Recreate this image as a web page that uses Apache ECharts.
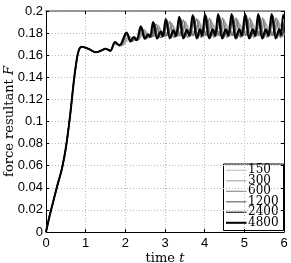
<!DOCTYPE html>
<html>
<head>
<meta charset="utf-8">
<script src="https://cdn.jsdelivr.net/npm/echarts@6/dist/echarts.min.js"></script>
<style>html,body{margin:0;padding:0;background:#fff}#c{width:291px;height:263px}</style>
</head>
<body>
<div id="c"></div>
<script>
// Shared initial ramp (all resolutions coincide here)
const tRamp = [0, 0.1, 0.2, 0.3, 0.4, 0.5, 0.6, 0.7, 0.75, 0.8, 0.85, 0.9, 1.0, 1.1, 1.25, 1.38, 1.5, 1.62];
const fRamp = [0, 0.016, 0.030, 0.044, 0.057, 0.076, 0.103, 0.136, 0.150, 0.161, 0.1663, 0.1676, 0.1668, 0.1652, 0.1626, 0.1640, 0.1658, 0.1640];

const seriesNames = ['150', '300', '600', '1200', '2400', '4800'];
const xTicks = [0, 1, 2, 3, 4, 5, 6];

const t150 = [1.74, 1.94, 2.13, 2.27, 2.52, 2.66, 2.87, 3.02, 3.21, 3.36, 3.55, 3.70, 3.89, 4.02, 4.22, 4.36, 4.55, 4.70, 4.88, 5.03, 5.21, 5.36, 5.54, 5.70, 5.88, 6.00];
const f150 = [0.1695, 0.1690, 0.1755, 0.1738, 0.1805, 0.1765, 0.1835, 0.1772, 0.1855, 0.1775, 0.1868, 0.1778, 0.1875, 0.1778, 0.1878, 0.1778, 0.1880, 0.1778, 0.1880, 0.1778, 0.1880, 0.1778, 0.1880, 0.1778, 0.1880, 0.1790];

const t300 = [1.74, 1.92, 2.11, 2.25, 2.50, 2.64, 2.85, 2.99, 3.19, 3.33, 3.53, 3.67, 3.87, 4.00, 4.18, 4.33, 4.51, 4.66, 4.85, 5.00, 5.19, 5.33, 5.52, 5.67, 5.86, 6.00];
const f300 = [0.1700, 0.1690, 0.1765, 0.1735, 0.1820, 0.1762, 0.1850, 0.1770, 0.1872, 0.1772, 0.1885, 0.1775, 0.1890, 0.1775, 0.1895, 0.1775, 0.1897, 0.1775, 0.1897, 0.1775, 0.1897, 0.1775, 0.1897, 0.1775, 0.1897, 0.1780];

const t600 = [1.74, 1.90, 2.09, 2.20, 2.28, 2.34, 2.47, 2.58, 2.66, 2.72, 2.83, 2.94, 3.02, 3.08, 3.17, 3.28, 3.36, 3.42, 3.51, 3.62, 3.70, 3.76, 3.85, 3.96, 4.04, 4.09, 4.16, 4.27, 4.35, 4.41, 4.49, 4.60, 4.68, 4.74, 4.83, 4.94, 5.02, 5.08, 5.17, 5.28, 5.36, 5.42, 5.50, 5.61, 5.69, 5.75, 5.84, 5.95, 6.00];
const f600 = [0.1705, 0.1688, 0.1775, 0.1728, 0.1755, 0.1740, 0.1832, 0.1756, 0.1785, 0.1770, 0.1868, 0.1763, 0.1805, 0.1778, 0.1890, 0.1765, 0.1810, 0.1780, 0.1905, 0.1765, 0.1815, 0.1782, 0.1915, 0.1765, 0.1815, 0.1782, 0.1920, 0.1765, 0.1815, 0.1782, 0.1922, 0.1765, 0.1815, 0.1782, 0.1922, 0.1765, 0.1815, 0.1782, 0.1922, 0.1765, 0.1815, 0.1782, 0.1922, 0.1765, 0.1815, 0.1782, 0.1922, 0.1765, 0.1790];

const t1200 = [1.74, 1.87, 2.05, 2.16, 2.24, 2.31, 2.42, 2.53, 2.61, 2.67, 2.78, 2.89, 2.97, 3.03, 3.12, 3.23, 3.31, 3.37, 3.46, 3.57, 3.65, 3.71, 3.80, 3.91, 3.99, 4.04, 4.12, 4.23, 4.31, 4.37, 4.45, 4.56, 4.64, 4.70, 4.79, 4.90, 4.98, 5.04, 5.13, 5.24, 5.32, 5.38, 5.46, 5.57, 5.65, 5.71, 5.80, 5.91, 6.00];
const f1200 = [0.1712, 0.1686, 0.1790, 0.1726, 0.1762, 0.1737, 0.1845, 0.1752, 0.1786, 0.1767, 0.1880, 0.1758, 0.1810, 0.1773, 0.1905, 0.1760, 0.1815, 0.1776, 0.1920, 0.1760, 0.1818, 0.1778, 0.1930, 0.1760, 0.1820, 0.1778, 0.1935, 0.1760, 0.1820, 0.1778, 0.1938, 0.1760, 0.1820, 0.1778, 0.1938, 0.1760, 0.1820, 0.1778, 0.1938, 0.1760, 0.1820, 0.1778, 0.1938, 0.1760, 0.1820, 0.1778, 0.1938, 0.1760, 0.1815];

const t2400 = [1.74, 1.86, 2.05, 2.15, 2.24, 2.30, 2.41, 2.52, 2.60, 2.65, 2.73, 2.83, 2.92, 2.97, 3.05, 3.15, 3.24, 3.30, 3.39, 3.49, 3.58, 3.64, 3.73, 3.83, 3.91, 3.96, 4.04, 4.14, 4.23, 4.29, 4.37, 4.47, 4.56, 4.62, 4.71, 4.81, 4.90, 4.96, 5.05, 5.15, 5.24, 5.30, 5.38, 5.48, 5.57, 5.63, 5.72, 5.82, 5.91, 5.96, 6.00];
const f2400 = [0.1715, 0.1685, 0.1795, 0.1722, 0.1762, 0.1735, 0.1852, 0.1748, 0.1788, 0.1765, 0.1890, 0.1755, 0.1812, 0.1772, 0.1915, 0.1755, 0.1820, 0.1775, 0.1935, 0.1755, 0.1825, 0.1778, 0.1950, 0.1755, 0.1830, 0.1778, 0.1955, 0.1755, 0.1830, 0.1778, 0.1958, 0.1755, 0.1830, 0.1778, 0.1958, 0.1755, 0.1830, 0.1778, 0.1958, 0.1755, 0.1830, 0.1778, 0.1958, 0.1755, 0.1830, 0.1778, 0.1958, 0.1755, 0.1830, 0.1782, 0.1900];

const t4800 = [1.74, 1.85, 2.03, 2.13, 2.21, 2.28, 2.39, 2.49, 2.57, 2.62, 2.70, 2.80, 2.89, 2.94, 3.02, 3.12, 3.21, 3.27, 3.36, 3.46, 3.55, 3.61, 3.70, 3.80, 3.88, 3.93, 4.01, 4.11, 4.20, 4.26, 4.34, 4.44, 4.53, 4.59, 4.68, 4.78, 4.87, 4.93, 5.02, 5.12, 5.21, 5.27, 5.35, 5.45, 5.54, 5.60, 5.69, 5.79, 5.88, 5.92, 5.98, 6.00];
const f4800 = [0.1720, 0.1690, 0.1805, 0.1725, 0.1765, 0.1735, 0.1862, 0.1748, 0.1790, 0.1765, 0.1900, 0.1752, 0.1815, 0.1770, 0.1928, 0.1752, 0.1825, 0.1772, 0.1948, 0.1752, 0.1830, 0.1775, 0.1964, 0.1752, 0.1835, 0.1775, 0.1970, 0.1752, 0.1835, 0.1775, 0.1972, 0.1752, 0.1835, 0.1775, 0.1972, 0.1752, 0.1835, 0.1775, 0.1972, 0.1752, 0.1835, 0.1775, 0.1972, 0.1752, 0.1835, 0.1775, 0.1972, 0.1752, 0.1835, 0.1780, 0.1965, 0.1930];

const tails = [[t150, f150], [t300, f300], [t600, f600], [t1200, f1200], [t2400, f2400], [t4800, f4800]];
const colors = ['#cccccc', '#b4b4b4', '#989898', '#747474', '#404040', '#000000'];
const widths = [1.3, 1.3, 1.3, 1.3, 1.4, 2];

function build(tt, ff) {
  const d = tRamp.map((t, i) => [t, fRamp[i]]);
  return d.concat(tt.map((t, i) => [t, ff[i]]));
}

const chart = echarts.init(document.getElementById('c'), null, {renderer: 'canvas'});
const sans = 'Liberation Sans';
const serif = 'DejaVu Serif';

const series = seriesNames.map((n, k) => ({
  name: n,
  type: 'line',
  data: build(tails[k][0], tails[k][1]),
  symbol: 'none',
  smooth: 0.35,
  lineStyle: {color: colors[k], width: widths[k]},
  itemStyle: {color: colors[k]},
  animation: false,
  z: 2 + k
}));

const richName = {
  n: {fontFamily: serif, fontSize: 13, color: '#000'},
  i: {fontFamily: serif, fontSize: 13, fontStyle: 'italic', color: '#000'}
};

// Legend box drawn as a graphic group (compact MATLAB-style rows)
const LEG = {x: 223.5, y: 164, w: 60, h: 66.5, row0: 6.3, rowStep: 10.5, lineX0: 2.5, lineX1: 23, textX: 24.5};
const legendChildren = [{
  type: 'rect', shape: {x: 0, y: 0, width: LEG.w, height: LEG.h},
  style: {fill: '#fff', stroke: '#000', lineWidth: 1}
}];
seriesNames.forEach((n, k) => {
  const cy = LEG.row0 + k * LEG.rowStep;
  legendChildren.push({
    type: 'line', shape: {x1: LEG.lineX0, y1: cy, x2: LEG.lineX1, y2: cy},
    style: {stroke: colors[k], lineWidth: widths[k]}
  });
  legendChildren.push({
    type: 'text', x: LEG.textX, y: cy,
    style: {text: n, fontFamily: serif, fontSize: 12, fill: '#000', verticalAlign: 'middle', align: 'left'}
  });
});

chart.setOption({
  animation: false,
  backgroundColor: '#fff',
  grid: {left: 46, right: 7, top: 11, bottom: 31, show: false, outerBoundsMode: 'none', containLabel: false},
  graphic: [{type: 'group', x: LEG.x, y: LEG.y, z: 100, children: legendChildren}],
  xAxis: [{
    type: 'value', min: 0, max: 6, interval: 1, position: 'bottom',
    axisLine: {onZero: false, lineStyle: {color: '#000', width: 1}},
    axisTick: {inside: true, length: 3, lineStyle: {color: '#000'}},
    axisLabel: {fontFamily: sans, fontSize: 13, color: '#000', margin: 5,
      formatter: v => xTicks.includes(v) ? String(v) : ''},
    splitLine: {show: true, lineStyle: {type: [1, 2], color: '#b8b8b8', width: 1}},
    name: '{n|time }{i|t}',
    nameLocation: 'middle',
    nameGap: 20,
    nameMoveOverlap: false,
    nameTextStyle: {fontFamily: serif, fontSize: 13, color: '#000', rich: richName}
  }, {
    type: 'value', min: 0, max: 6, interval: 1, position: 'top',
    axisLine: {onZero: false, lineStyle: {color: '#777', width: 1.5}},
    axisTick: {inside: true, length: 3, lineStyle: {color: '#000'}},
    axisLabel: {show: false},
    splitLine: {show: false}
  }],
  yAxis: [{
    type: 'value', min: 0, max: 0.2, interval: 0.02, position: 'left',
    axisLine: {onZero: false, lineStyle: {color: '#000', width: 1}},
    axisTick: {inside: true, length: 3, lineStyle: {color: '#000'}},
    axisLabel: {fontFamily: sans, fontSize: 13, color: '#000', margin: 3},
    splitLine: {show: true, lineStyle: {type: [1, 2], color: '#b8b8b8', width: 1}},
    name: '{n|force resultant }{i|F}',
    nameLocation: 'middle',
    nameGap: 30,
    nameMoveOverlap: false,
    nameTextStyle: {fontFamily: serif, fontSize: 13, color: '#000', rich: richName}
  }, {
    type: 'value', min: 0, max: 0.2, interval: 0.02, position: 'right',
    axisLine: {onZero: false, lineStyle: {color: '#000', width: 1}},
    axisTick: {inside: true, length: 3, lineStyle: {color: '#000'}},
    axisLabel: {show: false},
    splitLine: {show: false}
  }],
  series: series
});
</script>
</body>
</html>
